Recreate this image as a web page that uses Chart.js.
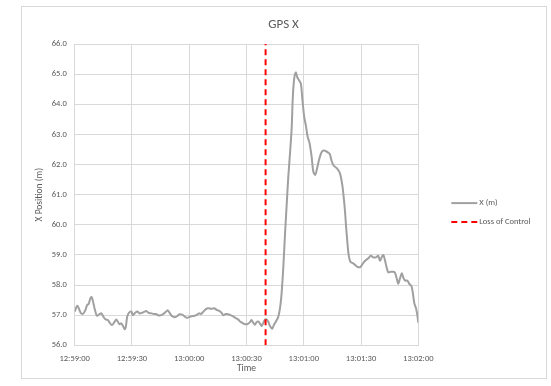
<!DOCTYPE html>
<html>
<head>
<meta charset="utf-8">
<title>GPS X</title>
<script src="https://cdn.jsdelivr.net/npm/chart.js@4/dist/chart.umd.min.js"></script>
<style>
  html, body { margin: 0; padding: 0; background: #ffffff; }
  #wrap { position: relative; width: 551px; height: 386px; }
</style>
</head>
<body>
<div id="wrap"><canvas id="gps" width="551" height="386"></canvas></div>
<script>
// Seconds after 12:59:00 for each GPS fix
const elapsedSec = [
  0, 1.4, 3.1, 4.3, 5.6, 6.5, 7.3, 8.2, 8.9, 9.6, 10.5, 11.7, 13.1, 14.0, 15.2, 16.2,
  17.4, 18.3, 19.5, 20.6, 21.8, 22.6, 23.5, 24.4, 25.3, 26.2, 26.8, 27.5, 28.4, 29.7,
  30.5, 31.7, 32.8, 34.0, 35.3, 36.6, 37.5, 38.7, 40.2, 41.6, 42.8, 44.0, 45.4, 46.8,
  47.9, 48.8, 49.7, 50.9, 52.3, 53.7, 54.9, 56.3, 57.7, 58.9, 60.3, 62.1, 63.8, 65.0,
  66.1, 67.3, 68.7, 69.9, 71.7, 73.1, 74.3, 75.7, 76.9, 77.8, 79.2, 80.4, 81.6, 83.0,
  84.4, 85.6, 86.8, 88.2, 89.4, 90.4, 91.7, 92.6, 93.5, 94.4, 95.2, 96.1, 97.0, 97.9,
  98.7, 99.6, 100.5, 101.4, 102.3, 103.4, 104.4, 105.5, 106.5, 107.2, 107.8, 108.4,
  109.3, 110.2, 111.1, 111.9, 112.8, 113.7, 114.2, 114.9, 115.8, 116.6, 117.7, 118.5,
  119.3, 120.2, 121.2, 122.0, 123.0, 124.1, 125.0, 126.0, 126.9, 127.7, 128.8, 129.8,
  131.1, 133.0, 133.7, 134.6, 135.6, 137.4, 139.0, 140.3, 141.1, 141.6, 142.1, 142.8,
  143.4, 143.9, 144.6, 145.9, 147.4, 148.6, 149.8, 151.2, 152.6, 153.8, 155.1, 156.4,
  157.8, 159.0, 159.9, 160.8, 161.7, 162.5, 163.4, 164.3, 165.5, 166.9, 167.8, 168.7,
  169.5, 170.4, 171.3, 172.1, 173.0, 174.2, 175.3, 176.5, 177.4, 177.9, 178.8, 179.5, 180.0
];

// X position (m) at each fix
const xPosition = [
  57.12, 57.31, 57.08, 57.04, 57.17, 57.34, 57.37, 57.56, 57.60, 57.45, 57.20, 56.98, 57.04, 57.06, 56.93, 56.86,
  56.84, 56.75, 56.67, 56.75, 56.86, 56.78, 56.70, 56.73, 56.64, 56.53, 56.62, 56.95, 57.08, 57.12,
  57.00, 57.08, 57.12, 57.06, 57.08, 57.12, 57.14, 57.08, 57.06, 57.04, 57.03, 56.99, 57.00, 57.06,
  57.12, 57.16, 57.08, 56.97, 56.93, 56.97, 57.03, 57.02, 56.95, 56.91, 56.95, 56.97, 57.00, 57.06,
  57.04, 57.11, 57.20, 57.23, 57.21, 57.23, 57.18, 57.14, 57.08, 57.00, 57.04, 57.03, 57.00, 56.96,
  56.90, 56.86, 56.78, 56.73, 56.70, 56.70, 56.76, 56.84, 56.75, 56.68, 56.76, 56.79, 56.73, 56.64,
  56.73, 56.84, 56.86, 56.78, 56.64, 56.55, 56.68, 56.80, 56.92, 57.10, 57.35, 57.73,
  58.61, 59.72, 60.72, 61.60, 62.38, 63.26, 64.15, 64.81, 65.06, 64.90, 64.78, 64.68,
  64.15, 63.60, 63.26, 62.93, 62.72, 62.27, 61.77, 61.66, 61.85, 62.08, 62.33, 62.45,
  62.46, 62.39, 62.34, 62.12, 61.97, 61.87, 61.70, 61.27, 60.80, 60.45, 60.00, 59.45,
  59.05, 58.88, 58.76, 58.72, 58.64, 58.59, 58.61, 58.74, 58.83, 58.89, 58.97, 58.92,
  58.92, 58.97, 58.81, 58.92, 59.00, 58.83, 58.59, 58.42, 58.44, 58.44, 58.41, 58.22,
  58.04, 58.22, 58.39, 58.26, 58.15, 58.15, 58.04, 57.95, 57.62, 57.40, 57.23, 57.00, 56.75
];

// Moment control was lost, seconds after 12:59:00
const lossOfControlSec = 100;

// Axis tick labels
const timeTicks = ['12:59:00', '12:59:30', '13:00:00', '13:00:30', '13:01:00', '13:01:30', '13:02:00'];
const positionTicks = [56, 57, 58, 59, 60, 61, 62, 63, 64, 65, 66];

const TEXT = '#595959';
const GRID = '#D9D9D9';
const FONT = 'Carlito, Calibri, Lato, sans-serif';

// Outer frame of the chart
const chartFrame = {
  id: 'chartFrame',
  beforeDraw(chart) {
    const ctx = chart.ctx;
    ctx.save();
    ctx.fillStyle = '#ffffff';
    ctx.fillRect(0, 0, chart.width, chart.height);
    ctx.strokeStyle = GRID;
    ctx.lineWidth = 1;
    ctx.strokeRect(21.5, 6.5, 525, 372);
    ctx.restore();
  }
};

// Legend laid out as its own box on the right of the plot
const sideLegend = {
  id: 'sideLegend',
  start(chart, args, opts) {
    const box = {
      options: {},
      position: 'right',
      weight: 1000,
      fullSize: false,
      left: 0, top: 0, right: 0, bottom: 0, width: 0, height: 0,
      isHorizontal() { return false; },
      update(maxWidth, maxHeight) {
        this.width = opts.width;
        this.height = maxHeight;
      },
      draw() {
        const ctx = chart.ctx;
        ctx.save();
        ctx.font = opts.fontSize + 'px ' + FONT;
        ctx.textBaseline = 'middle';
        ctx.textAlign = 'left';
        chart.data.datasets.forEach((ds, i) => {
          const x0 = this.left + opts.offsetX;
          const y = this.top + opts.offsetY + i * opts.rowGap;
          ctx.beginPath();
          ctx.strokeStyle = ds.borderColor;
          ctx.lineWidth = ds.borderWidth;
          ctx.setLineDash(ds.borderDash || []);
          ctx.moveTo(x0, y);
          ctx.lineTo(x0 + opts.sampleWidth, y);
          ctx.stroke();
          ctx.setLineDash([]);
          ctx.fillStyle = TEXT;
          ctx.fillText(ds.label, x0 + opts.sampleWidth + 2, y);
        });
        ctx.restore();
      }
    };
    chart.$sideLegend = box;
    Chart.layouts.addBox(chart, box);
  },
  stop(chart) {
    Chart.layouts.removeBox(chart, chart.$sideLegend);
  }
};

const gpsPoints = elapsedSec.map((s, i) => ({ x: s, y: xPosition[i] }));
const yMin = positionTicks[0];
const yMax = positionTicks[positionTicks.length - 1];

new Chart(document.getElementById('gps'), {
  type: 'line',
  data: {
    datasets: [
      {
        label: 'X (m)',
        data: gpsPoints,
        borderColor: '#A0A0A0',
        borderWidth: 2,
        pointRadius: 0,
        tension: 0.3,
        order: 2
      },
      {
        label: 'Loss of Control',
        data: [{ x: lossOfControlSec, y: yMin }, { x: lossOfControlSec, y: yMax }],
        borderColor: '#FF0000',
        borderWidth: 2,
        borderDash: [6, 4],
        pointRadius: 0,
        order: 1
      }
    ]
  },
  options: {
    responsive: false,
    animation: false,
    events: [],
    layout: { padding: { left: 21, right: 5, top: 6, bottom: 10 } },
    plugins: {
      legend: { display: false },
      tooltip: { enabled: false },
      title: {
        display: true,
        text: 'GPS X',
        color: TEXT,
        font: { family: FONT, size: 13, weight: 'normal' },
        padding: { top: 11, bottom: 11.5 }
      },
      sideLegend: { width: 127.7, offsetX: 33, offsetY: 159, rowGap: 19, sampleWidth: 26, fontSize: 8.5 }
    },
    scales: {
      x: {
        type: 'linear',
        min: 0,
        max: 180,
        afterFit(scale) { scale.height = 30.7; },
        ticks: {
          stepSize: 30,
          color: TEXT,
          font: { family: FONT, size: 8.5 },
          padding: 8.5,
          maxRotation: 0,
          callback: (v) => timeTicks[Math.round(v / 30)]
        },
        grid: { color: GRID, lineWidth: 1, drawTicks: false },
        border: { color: GRID },
        title: {
          display: true,
          text: 'Time',
          color: TEXT,
          font: { family: FONT, size: 9.5 },
          padding: { top: 0, bottom: 1.5 }
        }
      },
      y: {
        min: yMin,
        max: yMax,
        afterFit(scale) { scale.width = 53.7; },
        ticks: {
          stepSize: 1,
          color: TEXT,
          font: { family: FONT, size: 8.5 },
          padding: 8,
          callback: (v) => v.toFixed(1)
        },
        grid: { color: GRID, lineWidth: 1, drawTicks: false },
        border: { color: GRID },
        title: {
          display: true,
          text: 'X Position (m)',
          color: TEXT,
          font: { family: FONT, size: 9.5 },
          padding: { top: 12.5, bottom: 0 }
        }
      }
    }
  },
  plugins: [chartFrame, sideLegend]
});
</script>
</body>
</html>
